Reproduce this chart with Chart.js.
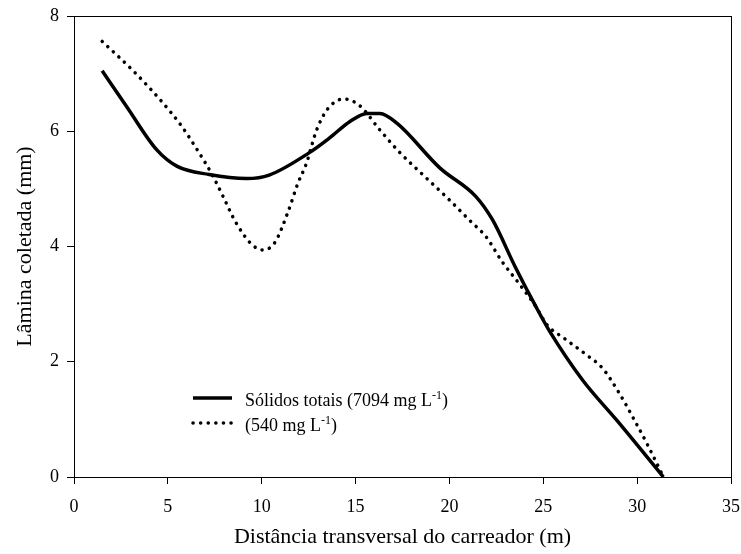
<!DOCTYPE html>
<html>
<head>
<meta charset="utf-8">
<script src="https://cdn.jsdelivr.net/npm/chart.js@4"></script>
<style>
  html, body { margin: 0; padding: 0; background: #fff; }
  #wrap { width: 741px; height: 554px; }
</style>
</head>
<body>
<div id="wrap"><canvas id="laminaChart" width="741" height="554"></canvas></div>
<script>
// Valores
const distSolidos = [1.5, 2.8, 4.4, 5.5, 7.2, 9.2, 10.4, 12.5, 13.6, 14.7, 15.6, 16.3, 17.2, 19.5, 21.4, 22.3, 23.5, 24.6, 25.3, 27.1, 28.9, 31.4];
const laminaSolidos = [7.05, 6.43, 5.68, 5.39, 5.25, 5.18, 5.24, 5.62, 5.88, 6.17, 6.31, 6.31, 6.14, 5.36, 4.87, 4.46, 3.65, 2.96, 2.55, 1.68, 0.99, 0.0];

const dist540 = [1.5, 3.15, 4.66, 5.73, 6.56, 7.32, 7.94, 8.6, 9.49, 10.07, 10.7, 11.4, 11.93, 12.38, 12.9, 13.5, 14.36, 15.2, 16.3, 17.3, 18.7, 19.9, 21.15, 21.95, 22.8, 23.7, 24.6, 25.2, 26.1, 27.3, 28.15, 29.0, 29.75, 30.6, 31.4];
const lamina540 = [7.56, 7.05, 6.52, 6.09, 5.68, 5.27, 4.87, 4.43, 4.03, 3.94, 4.07, 4.6, 5.1, 5.44, 6.0, 6.38, 6.56, 6.45, 6.02, 5.65, 5.21, 4.84, 4.43, 4.17, 3.74, 3.36, 2.96, 2.64, 2.41, 2.12, 1.89, 1.48, 1.05, 0.53, 0.0];

const xTicks = [0, 5, 10, 15, 20, 25, 30, 35];
const yTicks = [0, 2, 4, 6, 8];

const legendLabels = [
  { main: 'Sólidos totais (7094 mg L', sup: '-1', tail: ')' },
  { main: '(540 mg L', sup: '-1', tail: ')' }
];

const FONT = 'Liberation Serif';

function toPoints(xs, ys) {
  return xs.map((x, i) => ({ x: x, y: ys[i] }));
}

// moldura em volta da área do gráfico
const framePlugin = {
  id: 'frame',
  afterDraw(chart) {
    const { ctx, chartArea: a } = chart;
    ctx.save();
    ctx.strokeStyle = '#000';
    ctx.lineWidth = 1;
    ctx.strokeRect(a.left + 0.5, a.top + 0.5, a.right - a.left, a.bottom - a.top);
    ctx.restore();
  }
};

// legenda com sobrescrito
const legendPlugin = {
  id: 'customLegend',
  afterDraw(chart) {
    const ctx = chart.ctx;
    const rows = [
      { y: 398, dash: [], width: 3.5 },
      { y: 423, dash: [0.1, 7.5], width: 3.5 }
    ];
    ctx.save();
    rows.forEach((r, i) => {
      ctx.beginPath();
      ctx.setLineDash(r.dash);
      ctx.lineCap = r.dash.length ? 'round' : 'butt';
      ctx.lineWidth = r.width;
      ctx.strokeStyle = '#000';
      ctx.moveTo(193, r.y);
      ctx.lineTo(232, r.y);
      ctx.stroke();
      ctx.setLineDash([]);

      const lab = legendLabels[i];
      ctx.fillStyle = '#000';
      ctx.textBaseline = 'alphabetic';
      ctx.font = '18px "' + FONT + '"';
      let x = 245;
      const base = r.y + 8;
      ctx.fillText(lab.main, x, base);
      x += ctx.measureText(lab.main).width;
      ctx.font = '12px "' + FONT + '"';
      ctx.fillText(lab.sup, x, base - 7);
      x += ctx.measureText(lab.sup).width;
      ctx.font = '18px "' + FONT + '"';
      ctx.fillText(lab.tail, x, base);
    });
    ctx.restore();
  }
};

new Chart(document.getElementById('laminaChart'), {
  type: 'line',
  data: {
    datasets: [
      {
        label: 'Sólidos totais (7094 mg L-1)',
        data: toPoints(distSolidos, laminaSolidos),
        borderColor: '#000',
        borderWidth: 3.5,
        pointRadius: 0,
        cubicInterpolationMode: 'monotone',
        fill: false
      },
      {
        label: '(540 mg L-1)',
        data: toPoints(dist540, lamina540),
        borderColor: '#000',
        borderWidth: 3.5,
        borderDash: [0.1, 7.5],
        borderCapStyle: 'round',
        pointRadius: 0,
        cubicInterpolationMode: 'monotone',
        fill: false
      }
    ]
  },
  options: {
    responsive: false,
    animation: false,
    layout: { padding: { top: 16, right: 10, left: 0, bottom: 0 } },
    plugins: {
      legend: { display: false },
      tooltip: { enabled: false }
    },
    scales: {
      x: {
        type: 'linear',
        min: 0,
        max: 35,
        afterBuildTicks: s => { s.ticks = xTicks.map(v => ({ value: v })); },
        afterFit: s => { s.height = 77; s.paddingLeft = 0; s.paddingRight = 0; },
        grid: { drawOnChartArea: false, tickLength: 7, color: '#000', tickColor: '#000' },
        border: { display: true, color: '#000', width: 1 },
        ticks: { color: '#000', padding: 12, maxRotation: 0, font: { family: FONT, size: 18 } },
        title: {
          display: true,
          text: 'Distância transversal do carreador (m)',
          color: '#000',
          padding: { top: 8, bottom: 4 },
          font: { family: FONT, size: 22 }
        }
      },
      y: {
        min: 0,
        max: 8,
        afterBuildTicks: s => { s.ticks = yTicks.map(v => ({ value: v })); },
        afterFit: s => { s.width = 74; s.paddingTop = 0; s.paddingBottom = 0; },
        grid: { drawOnChartArea: false, tickLength: 7, color: '#000', tickColor: '#000' },
        border: { display: true, color: '#000', width: 1 },
        ticks: { color: '#000', padding: 8, font: { family: FONT, size: 18 } },
        title: {
          display: true,
          text: 'Lâmina coletada (mm)',
          color: '#000',
          padding: { top: 12, bottom: 4 },
          font: { family: FONT, size: 22 }
        }
      }
    }
  },
  plugins: [framePlugin, legendPlugin]
});
</script>
</body>
</html>
